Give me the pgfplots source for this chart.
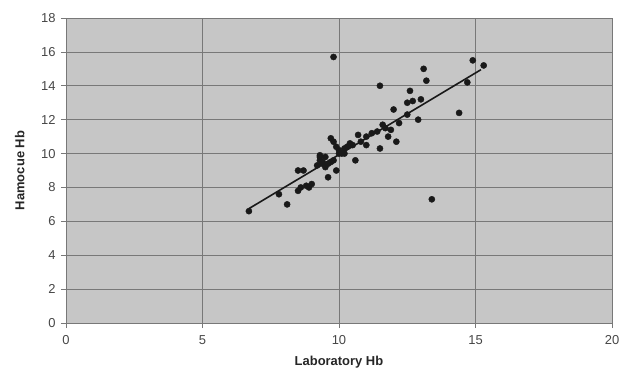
\documentclass[border=0pt]{standalone}
\usepackage{pgfplots}
\pgfplotsset{compat=1.18}
\usepackage{fontspec}
\setmainfont{Liberation Sans}
\definecolor{plotbg}{RGB}{198,198,198}
\definecolor{gridc}{RGB}{120,120,120}
\definecolor{tickc}{RGB}{70,70,70}
\begin{document}
\begin{tikzpicture}
\path[use as bounding box] (-66bp,-56bp) rectangle (557bp,305bp+18bp);
\begin{axis}[
  scale only axis,
  width=546bp, height=305bp,
  at={(0,0)}, anchor=south west,
  xmin=0, xmax=20, ymin=0, ymax=18,
  xtick={0,5,10,15,20}, ytick={0,2,...,18},
  axis background/.style={fill=plotbg},
  grid=major,
  major grid style={gridc, line width=0.6pt},
  axis line style={gridc, line width=0.8pt},
  tick style={gridc, line width=0.6pt},
  tick align=outside,
  major tick length=5bp,
  xtick pos=bottom, ytick pos=left,
  /pgf/number format/assume math mode=true,
  ticklabel style={font=\fontsize{13}{15}\selectfont, text=tickc},
  xticklabel style={yshift=-4bp},
  yticklabel style={xshift=-2bp},
  xlabel={\textbf{Laboratory Hb}},
  ylabel={\textbf{Hamocue Hb}},
  label style={font=\fontsize{13}{15}\selectfont, text=black!85},
  xlabel style={at={(axis description cs:0.5,0)}, anchor=north, yshift=-30bp},
  ylabel style={at={(axis description cs:0,0.5)}, anchor=south, yshift=38bp},
]
\addplot[only marks, mark=*, mark size=3.1pt, black!90] table {
x y
6.7 6.6
7.8 7.6
8.1 7.0
8.5 7.8
8.6 8.0
8.9 8.0
8.5 9.0
8.7 9.0
8.8 8.1
9.0 8.2
9.2 9.3
9.3 9.6
9.4 9.5
9.5 9.8
9.6 9.4
9.6 8.6
9.7 9.5
9.8 9.6
9.7 10.9
9.8 10.7
9.9 10.4
9.9 9.0
10.0 10.2
10.1 10.0
10.2 10.3
10.3 10.4
10.4 10.6
10.5 10.5
10.6 9.6
10.7 11.1
10.8 10.7
11.0 11.0
11.0 10.5
11.2 11.2
11.4 11.3
11.5 10.3
11.6 11.7
11.7 11.5
11.8 11.0
11.9 11.4
12.0 12.6
12.1 10.7
12.2 11.8
12.5 13.0
12.5 12.3
12.6 13.7
12.7 13.1
12.9 12.0
13.0 13.2
13.1 15.0
13.2 14.3
13.4 7.3
11.5 14.0
9.8 15.7
14.4 12.4
14.7 14.2
14.9 15.5
15.3 15.2
9.3 9.8
9.5 9.2
10.2 10.0
9.3 9.9
9.4 9.4
10.0 10.0
};
\addplot[black!90, line width=1.6pt] coordinates {(6.7,6.75) (15.2,14.95)};
\end{axis}
\end{tikzpicture}
\end{document}
